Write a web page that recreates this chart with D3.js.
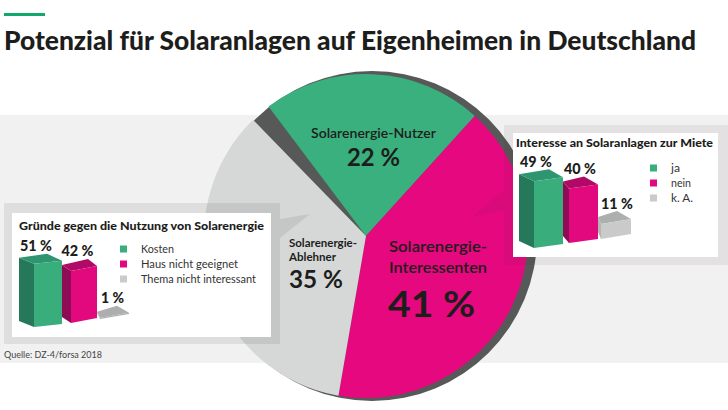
<!DOCTYPE html>
<html>
<head>
<meta charset="utf-8">
<script src="https://cdn.jsdelivr.net/npm/d3@7"></script>
<style>
  html, body { margin: 0; padding: 0; background: #fff; }
  svg { display: block; }
  text { font-family: Lato, "Open Sans", sans-serif; fill: #1d1d1b; }
</style>
</head>
<body>
<svg id="chart" width="728" height="410"></svg>
<script>
const titleText = "Potenzial für Solaranlagen auf Eigenheimen in Deutschland";
const sourceText = "Quelle: DZ-4/forsa 2018";

// pie, the 2 % missing from the total shows up as the dark gap
const pieNames = ["Solarenergie-Nutzer", "Solarenergie-Interessenten", "Solarenergie-Ablehner", "Rest"];
const pieValues = [22, 41, 35, 2];

// left box
const reasonsTitle = "Gründe gegen die Nutzung von Solarenergie";
const reasonsNames = ["Kosten", "Haus nicht geeignet", "Thema nicht interessant"];
const reasonsValues = [51, 42, 1];

// right box
const rentTitle = "Interesse an Solaranlagen zur Miete";
const rentNames = ["ja", "nein", "k. A."];
const rentValues = [49, 40, 11];

const greens = { front: "#3aad7c", side: "#26785a", top: "#2f9570" };
const pinks = { front: "#e2087e", side: "#8e0c55", top: "#b10a66" };
const greys = { front: "#c9cac9", side: "#b3b5b3", top: "#adafae" };
const barColors = [greens, pinks, greys];
const legendColors = ["#3aad7c", "#e2087e", "#c9cac9"];

const svg = d3.select("#chart");

function label(parent, text, x, y, size, weight, len, anchor) {
  const t = parent.append("text")
    .attr("x", x)
    .attr("y", y)
    .attr("font-size", size)
    .attr("font-weight", weight)
    .attr("text-anchor", anchor || "start")
    .text(text);
  if (len) t.attr("textLength", len).attr("lengthAdjust", "spacingAndGlyphs");
  return t;
}

// header
svg.append("rect").attr("x", 4).attr("y", 13).attr("width", 41).attr("height", 3).attr("fill", "#10a96a");
label(svg, titleText, 4, 50, 27, 900, 692);

// light band behind the pie
svg.append("rect").attr("x", 0).attr("y", 115).attr("width", 728).attr("height", 248).attr("fill", "#f1f1f1");

// pie
const cx = 366, cy = 236, radius = 162;
const rad = d3.scaleLinear().domain([0, 360]).range([0, 2 * Math.PI]);
const arc = d3.arc().innerRadius(0).outerRadius(radius);
const pie = d3.pie().sort(null).value(d => d)
  .startAngle(rad(-37))
  .endAngle(rad(323));
const sliceColors = d3.scaleOrdinal().domain(pieNames).range(["#3ab07e", "#e6087f", "#d6d8d7", "none"]);

svg.append("path")
  .attr("transform", `translate(${cx + 6},${cy})`)
  .attr("d", d3.arc().innerRadius(0).outerRadius(radius + 3).startAngle(0).endAngle(2 * Math.PI)())
  .attr("fill", "#575958");

svg.append("g")
  .attr("transform", `translate(${cx},${cy})`)
  .selectAll("path")
  .data(pie(pieValues))
  .join("path")
  .attr("d", arc)
  .attr("fill", (d, i) => sliceColors(pieNames[i]));

// pie labels
label(svg, pieNames[0], 311, 138, 13.5, 600, 125);
label(svg, pieValues[0] + " %", 347, 166, 24, 700, 53);
label(svg, "Solarenergie-", 389, 252, 16, 600, 98);
label(svg, "Interessenten", 389, 273, 16, 600, 98);
label(svg, pieValues[1] + " %", 388, 317, 36, 700, 87);
label(svg, "Solarenergie-", 289, 247, 11, 700, 68);
label(svg, "Ablehner", 289, 261, 11, 700, 47);
label(svg, pieValues[2] + " %", 289, 288, 24, 700, 54);

// boxes: see-through frame with a speech tail, white card on top
const line = d3.line();

svg.append("path")
  .attr("d", line([[4, 203], [280, 203], [280, 219], [310, 214], [280, 238], [280, 344], [4, 344]]) + "Z")
  .attr("fill", "rgba(0,0,0,0.08)");
svg.append("rect").attr("x", 12).attr("y", 213).attr("width", 259).attr("height", 124).attr("fill", "#fff");

svg.append("path")
  .attr("d", line([[504, 125], [728, 125], [728, 265], [504, 265], [504, 210], [472, 217], [504, 190]]) + "Z")
  .attr("fill", "rgba(60,40,50,0.08)");
svg.append("rect").attr("x", 513).attr("y", 133).attr("width", 205).attr("height", 124).attr("fill", "#fff");

// 3d bars, every bar is a side, a top and a front face
function bars(g, names, values, o) {
  const height = d3.scaleLinear().domain([0, 100]).range([0, o.unit * 100]);
  const ord = r => d3.scaleOrdinal().domain(names).range(r);
  const left = ord(o.left), width = ord(o.width), base = ord(o.base);
  const rise = ord(o.rise), sideDx = ord(o.sideDx), backDx = ord(o.backDx);
  const labelX = ord(o.labelX);

  names.forEach((name, i) => {
    const v = values[i], h = height(v), c = barColors[i];
    const x0 = left(name), x1 = x0 + width(name), y0 = base(name), y1 = y0 - rise(name);
    const sx = x0 - sideDx(name), bx = x1 - backDx(name), up = o.depth;
    const faces = [
      [c.side, [[x0, y0], [x0, y0 - h], [sx, y0 - h - up + 1], [sx, y0 - up + 1]]],
      [c.top, [[x0, y0 - h], [x1, y1 - h], [bx, y1 - h - up], [sx, y0 - h - up + 1]]],
      // a very low bar only shows its top
      [h < 5 ? c.top : c.front, [[x0, y0], [x1, y1], [x1, y1 - h], [x0, y0 - h]]]
    ];
    faces.forEach(f => {
      g.append("path").attr("d", line(f[1]) + "Z").attr("fill", f[0]);
    });
    label(g, v + " %", labelX(name), y1 - h - up - 2.5, 15.5, 900, v < 10 ? 23 : 32, "middle");
  });
}

function legend(g, names, x, textX, ys, size, lens) {
  names.forEach((name, i) => {
    g.append("rect").attr("x", x).attr("y", ys(i) - 3.5).attr("width", 7).attr("height", 7).attr("fill", legendColors[i]);
    label(g, name, textX, ys(i) + 4, size, 400, lens[i]).style("fill", "#333");
  });
}

const leftBox = svg.append("g");
label(leftBox, reasonsTitle, 19, 230, 12, 900, 245);
bars(leftBox, reasonsNames, reasonsValues, {
  unit: 1.24,
  left: [34, 71, 100],
  width: [28, 26, 29],
  base: [327, 323, 319],
  rise: [3, 5, 5],
  sideDx: [15, 9, 3],
  backDx: [15, 9, 12],
  depth: 7,
  labelX: [36, 77.5, 112.5]
});
legend(leftBox, reasonsNames, 120, 141, d3.scaleLinear().domain([0, 2]).range([249, 279]), 12, [33, 97, 115]);

const rightBox = svg.append("g");
label(rightBox, rentTitle, 516, 147, 12, 900, 197);
bars(rightBox, rentNames, rentValues, {
  unit: 1.36,
  left: [534, 569, 601],
  width: [29, 29, 30],
  base: [248, 243, 239],
  rise: [4, 4, 5],
  sideDx: [15, 6, 3],
  backDx: [14, 14, 14],
  depth: 8,
  labelX: [536, 580, 617]
});
legend(rightBox, rentNames, 650, 671, d3.scaleLinear().domain([0, 2]).range([168, 198]), 12, [9, 20, 22]);

// source line
label(svg, sourceText, 4, 358, 10, 400, 98).style("fill", "#444");
</script>
</body>
</html>
